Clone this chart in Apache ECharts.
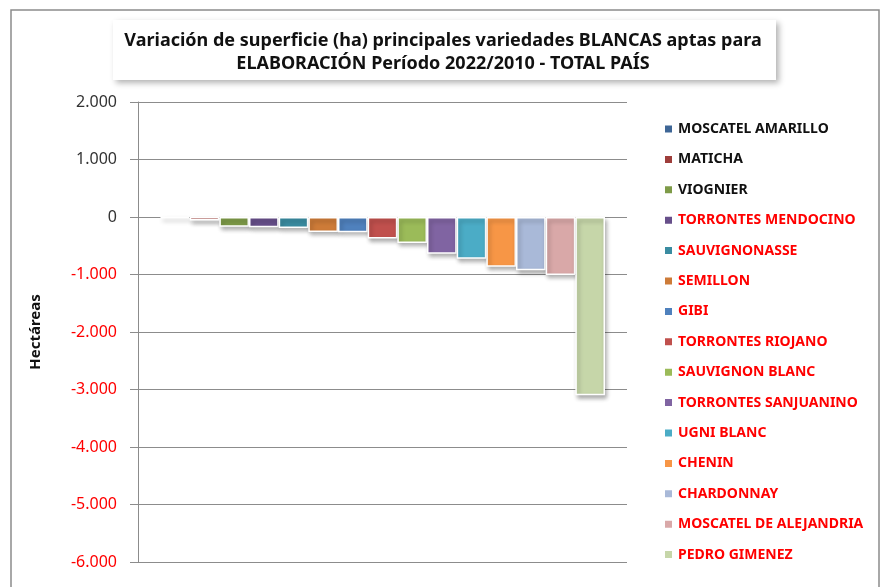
<!DOCTYPE html>
<html>
<head>
<meta charset="utf-8">
<script src="https://cdn.jsdelivr.net/npm/echarts@6/dist/echarts.min.js"></script>
<style>
  html, body { margin: 0; padding: 0; background: #fff; }
  #chart { width: 886px; height: 587px; }
</style>
</head>
<body>
<div id="chart"></div>
<script>
// variedades, en el orden de la leyenda
const varieties = [
  'MOSCATEL AMARILLO', 'MATICHA', 'VIOGNIER', 'TORRONTES MENDOCINO', 'SAUVIGNONASSE',
  'SEMILLON', 'GIBI', 'TORRONTES RIOJANO', 'SAUVIGNON BLANC', 'TORRONTES SANJUANINO',
  'UGNI BLANC', 'CHENIN', 'CHARDONNAY', 'MOSCATEL DE ALEJANDRIA', 'PEDRO GIMENEZ'
]
// variación de superficie (ha) 2022/2010
const variation = [
  -15, -60, -170, -180, -190,
  -260, -265, -372, -452, -638,
  -725, -865, -928, -1008, -3100
]
const yTicks = [2000, 1000, 0, -1000, -2000, -3000, -4000, -5000, -6000]
const barColors = [
  '#3E6696', '#9E3E3B', '#7E9B48', '#674F8A', '#3A8CA1',
  '#CD7B38', '#4F81BD', '#C0504D', '#9BBB59', '#8064A2',
  '#4BACC6', '#F79646', '#A9B9D8', '#D9A8A8', '#C6D6A9'
]
// las tres primeras en negro, el resto en rojo
const legendColors = varieties.map((v, i) => (i < 3 ? '#111' : '#FF0000'))

const chart = echarts.init(document.getElementById('chart'))

const fmt = v => {
  const s = Math.abs(v).toString().replace(/\B(?=(\d{3})+(?!\d))/g, '.')
  return v < 0 ? '-' + s : s
}

const option = {
  animation: false,
  backgroundColor: '#fff',
  graphic: [
    {
      type: 'rect',
      shape: { x: 11, y: 10, width: 868, height: 600 },
      style: { fill: 'none', stroke: '#8c8c8c', lineWidth: 1.5 },
      silent: true
    },
    {
      type: 'rect',
      shape: { x: 113, y: 20, width: 663, height: 60 },
      style: {
        fill: '#fff',
        shadowBlur: 6,
        shadowOffsetX: 3,
        shadowOffsetY: 3,
        shadowColor: 'rgba(0,0,0,0.3)'
      },
      silent: true
    }
  ],
  title: {
    text: 'Variación de superficie (ha) principales variedades BLANCAS aptas para\nELABORACIÓN Período 2022/2010 - TOTAL PAÍS',
    left: 'center',
    top: 24,
    textStyle: {
      fontFamily: 'Noto Sans',
      fontSize: 18,
      fontWeight: 'bold',
      color: '#111',
      lineHeight: 23
    }
  },
  legend: {
    orient: 'vertical',
    left: 658,
    top: 115,
    icon: 'rect',
    itemWidth: 9,
    itemHeight: 9,
    itemGap: 12.4,
    selectedMode: false,
    data: varieties.map((name, i) => ({
      name,
      textStyle: { color: legendColors[i] }
    })),
    textStyle: {
      fontFamily: 'Noto Sans',
      fontSize: 14,
      fontWeight: 'bold',
      lineHeight: 18
    }
  },
  grid: { left: 138, right: 259, top: 102, bottom: 25 },
  xAxis: {
    type: 'category',
    data: [''],
    axisLine: { show: false },
    axisTick: { show: false },
    axisLabel: { show: false }
  },
  yAxis: {
    type: 'value',
    min: -6000,
    max: 2000,
    interval: 1000,
    name: 'Hectáreas',
    nameLocation: 'middle',
    nameGap: 95,
    nameTextStyle: {
      fontFamily: 'Noto Sans',
      fontSize: 15,
      fontWeight: 'bold',
      color: '#111'
    },
    axisLine: { show: true, lineStyle: { color: '#8c8c8c', width: 1 } },
    axisTick: { show: true, length: 8, lineStyle: { color: '#8c8c8c' } },
    axisLabel: {
      fontFamily: 'Noto Sans',
      fontSize: 16,
      margin: 21,
      formatter: v => (yTicks.includes(v) ? fmt(v) : ''),
      color: v => (v < 0 ? '#FF0000' : '#333')
    },
    splitLine: { lineStyle: { color: '#8c8c8c', width: 1 } }
  },
  series: varieties.map((name, i) => ({
    name,
    type: 'bar',
    data: [variation[i]],
    barGap: '0%',
    barCategoryGap: '9%',
    itemStyle: {
      color: barColors[i],
      borderColor: '#fff',
      borderWidth: 1.5,
      shadowBlur: 4,
      shadowOffsetX: 2,
      shadowOffsetY: 3,
      shadowColor: 'rgba(0,0,0,0.3)'
    }
  }))
}

chart.setOption(option)
</script>
</body>
</html>
